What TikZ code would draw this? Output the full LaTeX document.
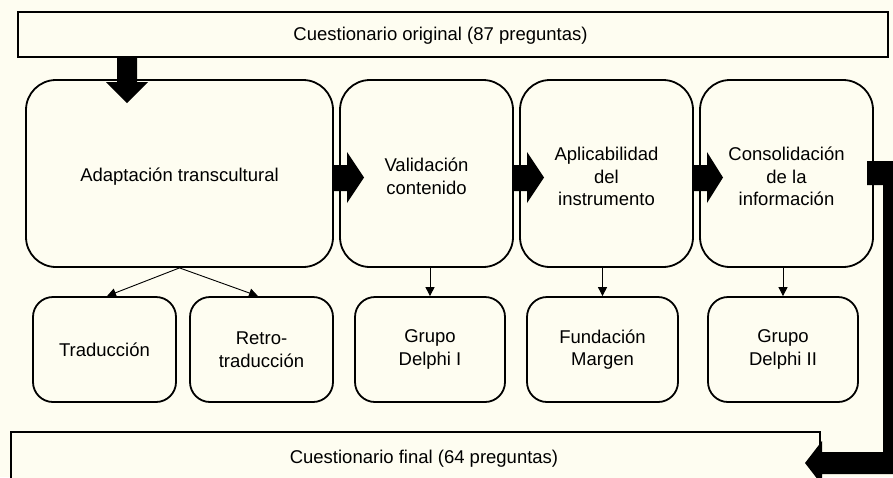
\documentclass[tikz,border=0pt]{standalone}
\usepackage{fontspec}
\setmainfont{Liberation Sans}
\usetikzlibrary{arrows.meta,calc}
\definecolor{cream}{HTML}{FEFDF1}
\begin{document}
\begin{tikzpicture}[x=1pt,y=-1pt,
  every node/.style={font=\fontsize{18.5}{22.5}\selectfont, align=center, inner sep=0pt},
  boxbase/.style={draw=black, line width=1.8pt, fill=cream},
  plainbox/.style={boxbase, rectangle, minimum height=45pt},
  bigbox/.style={boxbase, rectangle, rounded corners=30pt, minimum height=187pt},
  smallbox/.style={boxbase, rectangle, rounded corners=20pt, minimum height=105pt},
  thin/.style={line width=0.9pt, -{Triangle[width=9pt,length=9pt]}},
  fat/.style={fill=black}]
\useasboundingbox (0,0) rectangle (893,477);
\clip (0,0) rectangle (893,477);
\fill[cream] (0,0) rectangle (893,477);

% top and bottom boxes
\node[plainbox, minimum width=870pt] (top) at (453,34.5) {};
\node (toptext) at (440.5,36) {Cuestionario original (87 preguntas)};
\node[plainbox, minimum width=809pt, minimum height=56pt] (final) at (415.5,460) {};
\node (finaltext) at (424,459) {Cuestionario final (64 preguntas)};

% main step boxes
\node[bigbox, minimum width=307pt] (adapt) at (179.5,173.5) {};
\node[bigbox, minimum width=173pt] (valid) at (426.5,173.5) {};
\node[bigbox, minimum width=173pt] (aplic) at (606.5,173.5) {};
\node[bigbox, minimum width=173pt] (consol) at (786.5,173.5) {};
\node (adaptT) at ([yshift=-3.5pt]adapt.center) {Adaptación transcultural};
\node (validT) at ([yshift=-3pt]valid.center) {Validación\\contenido};
\node (aplicT) at ([yshift=-3pt]aplic.center) {Aplicabilidad\\del\\instrumento};
\node (consolT) at ([yshift=-3pt]consol.center) {Consolidación\\de la\\información};

% sub boxes
\node[smallbox, minimum width=143pt] (trad) at (104.5,349.5) {Traducción};
\node[smallbox, minimum width=143pt] (retro) at (261.5,349.5) {Retro-\\traducción};
\node[smallbox, minimum width=150pt] (delphiA) at (430,349.5) {Grupo\\Delphi I};
\node[smallbox, minimum width=151pt] (fund) at (602.5,349.5) {Fundación\\Margen};
\node[smallbox, minimum width=150pt] (delphiB) at (783,349.5) {Grupo\\Delphi II};

% thin connectors
\draw[thin] (adapt.south) -- ([xshift=2.5pt]trad.north);
\draw[thin] (adapt.south) -- ([xshift=-3.5pt]retro.north);
\draw[thin] (valid.south -| delphiA.north) -- (delphiA.north);
\draw[thin] (aplic.south -| fund.north) -- (fund.north);
\draw[thin] (consol.south -| delphiB.north) -- (delphiB.north);

% fat arrows
\fill[fat] (117,57) -- (137,57) -- (137,82) -- (148,82) -- (127,103) -- (106,82) -- (117,82) -- cycle;
\foreach \s/\b/\t in {333/347/364, 513/527/544, 693/707/723}{
  \fill[fat] (\s,165) -- (\b,165) -- (\b,152) -- (\t,177.5) -- (\b,203) -- (\b,191) -- (\s,191) -- cycle;
}
\fill[fat] (867,161) -- (907,161) -- (907,474) -- (822,474) -- (822,485) -- (805,463)
  -- (822,441) -- (822,452) -- (883,452) -- (883,185) -- (867,185) -- cycle;
\end{tikzpicture}
\end{document}
